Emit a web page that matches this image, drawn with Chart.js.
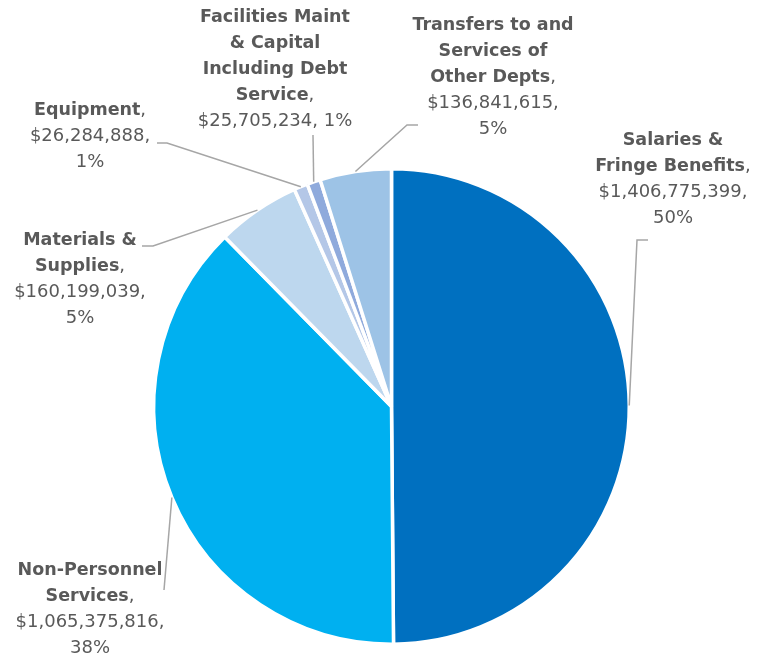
<!DOCTYPE html>
<html>
<head>
<meta charset="utf-8">
<script src="https://cdn.jsdelivr.net/npm/chart.js@4/dist/chart.umd.min.js"></script>
<style>
  html, body { margin: 0; padding: 0; background: #fff; }
  #wrap { width: 763px; height: 665px; position: relative; }
</style>
</head>
<body>
<div id="wrap"><canvas id="budgetPie"></canvas></div>
<script>
// categories, clockwise from 12 o'clock (multi-line as in the picture)
const categories = [
  ["Salaries &", "Fringe Benefits"],
  ["Non-Personnel", "Services"],
  ["Materials &", "Supplies"],
  ["Equipment"],
  ["Facilities Maint", "& Capital", "Including Debt", "Service"],
  ["Transfers to and", "Services of", "Other Depts"],
];
const amounts = [1406775399, 1065375816, 160199039, 26284888, 25705234, 136841615];
const percentLabels = ["50%", "38%", "5%", "1%", "1%", "5%"];
const sliceColors = ["#0070C0", "#00B0F0", "#BDD7EE", "#B4C7E7", "#8FAADC", "#9DC3E6"];

// label placement: text centre, first line y, leader elbow and end
const labelLayout = [
  { x: 673, y: 140, oneLine: false, elbow: [637, 240], end: [648, 240] },
  { x: 90, y: 570, oneLine: false, elbow: [164, 590], end: [164, 590] },
  { x: 80, y: 240, oneLine: false, elbow: [153, 246], end: [142, 246] },
  { x: 90, y: 110, oneLine: false, elbow: [167, 143], end: [157, 143] },
  { x: 275, y: 17, oneLine: true, elbow: [313, 135], end: [313, 135] },
  { x: 493, y: 25, oneLine: false, elbow: [407, 125], end: [418, 125] },
];

const FONT = "'DejaVu Sans', sans-serif";
const LINE_H = 26;
const TEXT_COLOR = "#595959";

function money(v) {
  return "$" + v.toLocaleString("en-US");
}

const pieLabels = {
  id: "pieLabels",
  afterDatasetsDraw(chart) {
    const ctx = chart.ctx;
    const arcs = chart.getDatasetMeta(0).data;
    ctx.save();

    // leader lines
    ctx.strokeStyle = "#A6A6A6";
    ctx.lineWidth = 1.5;
    arcs.forEach((arc, i) => {
      const lay = labelLayout[i];
      const mid = (arc.startAngle + arc.endAngle) / 2;
      const r = arc.outerRadius;
      ctx.beginPath();
      ctx.moveTo(arc.x + Math.cos(mid) * r, arc.y + Math.sin(mid) * r);
      ctx.lineTo(lay.elbow[0], lay.elbow[1]);
      ctx.lineTo(lay.end[0], lay.end[1]);
      ctx.stroke();
    });

    // texts
    ctx.fillStyle = TEXT_COLOR;
    ctx.textBaseline = "middle";
    const bold = "bold 17.5px " + FONT;
    const reg = "18px " + FONT;
    categories.forEach((lines, i) => {
      const lay = labelLayout[i];
      let y = lay.y;
      lines.forEach((line, k) => {
        const last = k === lines.length - 1;
        ctx.font = bold;
        const w1 = ctx.measureText(line).width;
        ctx.font = reg;
        const w2 = last ? ctx.measureText(",").width : 0;
        const x0 = lay.x - (w1 + w2) / 2;
        ctx.textAlign = "left";
        ctx.font = bold;
        ctx.fillText(line, x0, y);
        if (last) {
          ctx.font = reg;
          ctx.fillText(",", x0 + w1, y);
        }
        y += LINE_H;
      });
      ctx.font = reg;
      ctx.textAlign = "center";
      const valueLines = lay.oneLine
        ? [money(amounts[i]) + ", " + percentLabels[i]]
        : [money(amounts[i]) + ",", percentLabels[i]];
      valueLines.forEach((t) => {
        ctx.fillText(t, lay.x, y);
        y += LINE_H;
      });
    });
    ctx.restore();
  },
};

new Chart(document.getElementById("budgetPie"), {
  type: "pie",
  data: {
    labels: categories,
    datasets: [
      {
        data: amounts,
        backgroundColor: sliceColors,
        borderColor: "#FFFFFF",
        borderWidth: 3.5,
        hoverOffset: 0,
      },
    ],
  },
  options: {
    responsive: true,
    maintainAspectRatio: false,
    animation: false,
    layout: { padding: { top: 167, bottom: 19, left: 152, right: 132 } },
    plugins: {
      legend: { display: false },
      tooltip: { enabled: false },
    },
  },
  plugins: [pieLabels],
});
</script>
</body>
</html>
